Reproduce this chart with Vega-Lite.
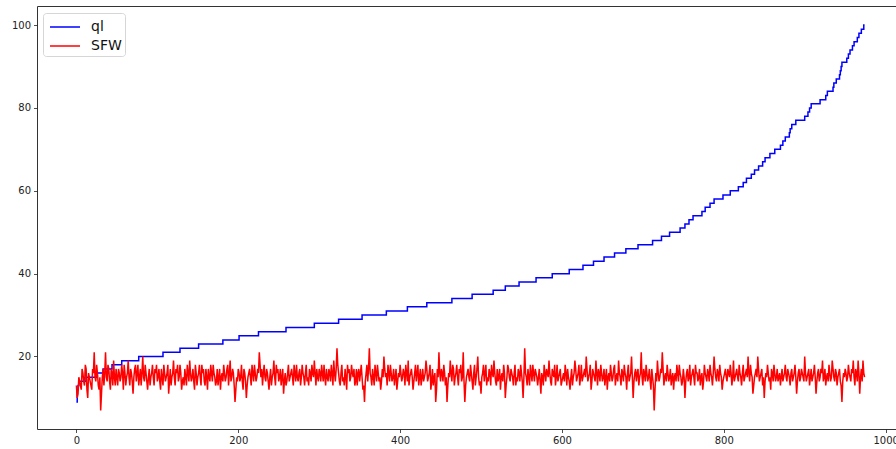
{
  "$schema": "https://vega.github.io/schema/vega-lite/v6.json",
  "width": 867,
  "height": 423,
  "autosize": {"type": "none"},
  "padding": {"left": 37, "top": 6, "right": 0, "bottom": 20},
  "background": "white",
  "config": {
    "view": {"stroke": "#333", "strokeWidth": 1},
    "axis": {"labelFont": "DejaVu Sans", "labelFontSize": 10, "labelColor": "#222", "tickColor": "#222", "tickSize": 3.5, "tickWidth": 0.8, "labelPadding": 3, "domain": false, "grid": false, "title": null},
    "legend": {"labelFont": "DejaVu Sans", "labelFontSize": 14, "labelColor": "#111"}
  },
  "datasets": {
    "ql": [
      {"x":0,"v":9},{"x":1,"v":12},{"x":2,"v":13},{"x":3,"v":14},{"x":12,"v":15},{"x":25,"v":16},{"x":33,"v":17},{"x":44,"v":18},{"x":56,"v":19},{"x":77,"v":20},{"x":107,"v":21},{"x":128,"v":22},{"x":151,"v":23},{"x":181,"v":24},{"x":201,"v":25},{"x":225,"v":26},{"x":259,"v":27},{"x":294,"v":28},{"x":324,"v":29},{"x":353,"v":30},{"x":383,"v":31},{"x":409,"v":32},{"x":433,"v":33},{"x":464,"v":34},{"x":489,"v":35},{"x":515,"v":36},{"x":530,"v":37},{"x":547,"v":38},{"x":568,"v":39},{"x":588,"v":40},{"x":609,"v":41},{"x":626,"v":42},{"x":639,"v":43},{"x":652,"v":44},{"x":665,"v":45},{"x":679,"v":46},{"x":694,"v":47},{"x":712,"v":48},{"x":723,"v":49},{"x":733,"v":50},{"x":746,"v":51},{"x":752,"v":52},{"x":757,"v":53},{"x":762,"v":54},{"x":773,"v":55},{"x":777,"v":56},{"x":783,"v":57},{"x":788,"v":58},{"x":799,"v":59},{"x":808,"v":60},{"x":818,"v":61},{"x":824,"v":62},{"x":828,"v":63},{"x":834,"v":64},{"x":838,"v":65},{"x":843,"v":66},{"x":848,"v":67},{"x":851,"v":68},{"x":857,"v":69},{"x":863,"v":70},{"x":870,"v":71},{"x":873,"v":72},{"x":876,"v":73},{"x":881,"v":74},{"x":882,"v":75},{"x":884,"v":76},{"x":889,"v":77},{"x":900,"v":78},{"x":904,"v":79},{"x":906,"v":80},{"x":908,"v":81},{"x":919,"v":82},{"x":926,"v":83},{"x":928,"v":84},{"x":935,"v":85},{"x":936,"v":86},{"x":939,"v":87},{"x":943,"v":88},{"x":944,"v":89},{"x":945,"v":90},{"x":946,"v":91},{"x":952,"v":92},{"x":954,"v":93},{"x":956,"v":94},{"x":959,"v":95},{"x":961,"v":96},{"x":965,"v":97},{"x":967,"v":98},{"x":970,"v":99},{"x":973,"v":100},{"x":974,"v":100}
    ],
    "sfw": [
      {"x":0,"v":13},{"x":2,"v":11},{"x":4,"v":14},{"x":6,"v":12},{"x":8,"v":16},{"x":10,"v":13},{"x":12,"v":17},{"x":14,"v":10},{"x":16,"v":15},{"x":18,"v":13},{"x":20,"v":17},{"x":22,"v":21},{"x":24,"v":14},{"x":26,"v":16},{"x":28,"v":12},{"x":30,"v":7},{"x":32,"v":15},{"x":34,"v":13},{"x":36,"v":21},{"x":38,"v":14},{"x":40,"v":17},{"x":42,"v":12},{"x":44,"v":16},{"x":46,"v":19},{"x":48,"v":13},{"x":50,"v":15},
      {"x":52,"v":17},{"x":54,"v":14},{"x":56,"v":18},{"x":58,"v":12},{"x":60,"v":16},{"x":62,"v":15},{"x":64,"v":19},{"x":66,"v":13},{"x":68,"v":16},{"x":70,"v":11},{"x":72,"v":17},{"x":74,"v":14},{"x":76,"v":18},{"x":78,"v":15},{"x":80,"v":13},{"x":82,"v":20},{"x":84,"v":14},{"x":86,"v":16},{"x":88,"v":12},{"x":90,"v":17},{"x":92,"v":15},{"x":94,"v":18},{"x":96,"v":13},{"x":98,"v":16},{"x":100,"v":14},
      {"x":102,"v":17},{"x":104,"v":12},{"x":106,"v":15},{"x":108,"v":18},{"x":110,"v":14},{"x":112,"v":16},{"x":114,"v":11},{"x":116,"v":17},{"x":118,"v":15},{"x":120,"v":19},{"x":122,"v":13},{"x":124,"v":16},{"x":126,"v":14},{"x":128,"v":18},{"x":130,"v":12},{"x":132,"v":15},{"x":134,"v":17},{"x":136,"v":13},{"x":138,"v":16},{"x":140,"v":19},{"x":142,"v":14},{"x":144,"v":17},{"x":146,"v":12},{"x":148,"v":16},{"x":150,"v":15},
      {"x":152,"v":18},{"x":154,"v":13},{"x":156,"v":16},{"x":158,"v":14},{"x":160,"v":17},{"x":162,"v":12},{"x":164,"v":15},{"x":166,"v":18},{"x":168,"v":14},{"x":170,"v":16},{"x":172,"v":13},{"x":174,"v":17},{"x":176,"v":15},{"x":178,"v":12},{"x":180,"v":16},{"x":182,"v":18},{"x":184,"v":14},{"x":186,"v":17},{"x":188,"v":13},{"x":190,"v":19},{"x":192,"v":15},{"x":194,"v":16},{"x":196,"v":9},{"x":198,"v":15},{"x":200,"v":17},
      {"x":202,"v":14},{"x":204,"v":18},{"x":206,"v":12},{"x":208,"v":16},{"x":210,"v":10},{"x":212,"v":15},{"x":214,"v":17},{"x":216,"v":13},{"x":218,"v":16},{"x":220,"v":18},{"x":222,"v":14},{"x":224,"v":17},{"x":226,"v":21},{"x":228,"v":15},{"x":230,"v":13},{"x":232,"v":18},{"x":234,"v":14},{"x":236,"v":16},{"x":238,"v":12},{"x":240,"v":17},{"x":242,"v":15},{"x":244,"v":19},{"x":246,"v":13},{"x":248,"v":16},{"x":250,"v":14},
      {"x":252,"v":17},{"x":254,"v":15},{"x":256,"v":11},{"x":258,"v":16},{"x":260,"v":14},{"x":262,"v":18},{"x":264,"v":15},{"x":266,"v":17},{"x":268,"v":13},{"x":270,"v":16},{"x":272,"v":18},{"x":274,"v":14},{"x":276,"v":17},{"x":278,"v":15},{"x":280,"v":16},{"x":282,"v":13},{"x":284,"v":18},{"x":286,"v":15},{"x":288,"v":17},{"x":290,"v":14},{"x":292,"v":16},{"x":294,"v":19},{"x":296,"v":13},{"x":298,"v":15},{"x":300,"v":17},
      {"x":302,"v":14},{"x":304,"v":16},{"x":306,"v":18},{"x":308,"v":13},{"x":310,"v":15},{"x":312,"v":17},{"x":314,"v":14},{"x":316,"v":16},{"x":318,"v":19},{"x":320,"v":14},{"x":322,"v":22},{"x":324,"v":16},{"x":326,"v":13},{"x":328,"v":18},{"x":330,"v":15},{"x":332,"v":17},{"x":334,"v":12},{"x":336,"v":16},{"x":338,"v":14},{"x":340,"v":18},{"x":342,"v":15},{"x":344,"v":13},{"x":346,"v":17},{"x":348,"v":16},{"x":350,"v":14},
      {"x":352,"v":18},{"x":354,"v":12},{"x":356,"v":9},{"x":358,"v":16},{"x":360,"v":14},{"x":362,"v":22},{"x":364,"v":15},{"x":366,"v":17},{"x":368,"v":13},{"x":370,"v":16},{"x":372,"v":18},{"x":374,"v":14},{"x":376,"v":12},{"x":378,"v":17},{"x":380,"v":20},{"x":382,"v":15},{"x":384,"v":13},{"x":386,"v":16},{"x":388,"v":18},{"x":390,"v":14},{"x":392,"v":17},{"x":394,"v":15},{"x":396,"v":12},{"x":398,"v":16},{"x":400,"v":18},
      {"x":402,"v":14},{"x":404,"v":17},{"x":406,"v":13},{"x":408,"v":16},{"x":410,"v":19},{"x":412,"v":15},{"x":414,"v":17},{"x":416,"v":12},{"x":418,"v":16},{"x":420,"v":14},{"x":422,"v":18},{"x":424,"v":15},{"x":426,"v":13},{"x":428,"v":17},{"x":430,"v":15},{"x":432,"v":19},{"x":434,"v":14},{"x":436,"v":16},{"x":438,"v":12},{"x":440,"v":17},{"x":442,"v":15},{"x":444,"v":9},{"x":446,"v":17},{"x":448,"v":21},{"x":450,"v":14},
      {"x":452,"v":16},{"x":454,"v":18},{"x":456,"v":13},{"x":458,"v":9},{"x":460,"v":16},{"x":462,"v":19},{"x":464,"v":14},{"x":466,"v":17},{"x":468,"v":15},{"x":470,"v":18},{"x":472,"v":13},{"x":474,"v":16},{"x":476,"v":14},{"x":478,"v":21},{"x":480,"v":9},{"x":482,"v":15},{"x":484,"v":17},{"x":486,"v":14},{"x":488,"v":16},{"x":490,"v":12},{"x":492,"v":18},{"x":494,"v":15},{"x":496,"v":20},{"x":498,"v":13},{"x":500,"v":11},
      {"x":502,"v":16},{"x":504,"v":14},{"x":506,"v":18},{"x":508,"v":15},{"x":510,"v":17},{"x":512,"v":13},{"x":514,"v":16},{"x":516,"v":19},{"x":518,"v":14},{"x":520,"v":17},{"x":522,"v":15},{"x":524,"v":12},{"x":526,"v":16},{"x":528,"v":18},{"x":530,"v":10},{"x":532,"v":15},{"x":534,"v":17},{"x":536,"v":14},{"x":538,"v":16},{"x":540,"v":13},{"x":542,"v":18},{"x":544,"v":15},{"x":546,"v":17},{"x":548,"v":14},{"x":550,"v":16},
      {"x":552,"v":10},{"x":554,"v":22},{"x":556,"v":15},{"x":558,"v":17},{"x":560,"v":13},{"x":562,"v":16},{"x":564,"v":18},{"x":566,"v":14},{"x":568,"v":16},{"x":570,"v":13},{"x":572,"v":17},{"x":574,"v":11},{"x":576,"v":15},{"x":578,"v":18},{"x":580,"v":14},{"x":582,"v":16},{"x":584,"v":19},{"x":586,"v":14},{"x":588,"v":17},{"x":590,"v":15},{"x":592,"v":13},{"x":594,"v":18},{"x":596,"v":15},{"x":598,"v":17},{"x":600,"v":14},
      {"x":602,"v":16},{"x":604,"v":18},{"x":606,"v":13},{"x":608,"v":15},{"x":610,"v":12},{"x":612,"v":17},{"x":614,"v":15},{"x":616,"v":19},{"x":618,"v":14},{"x":620,"v":16},{"x":622,"v":13},{"x":624,"v":18},{"x":626,"v":15},{"x":628,"v":17},{"x":630,"v":20},{"x":632,"v":14},{"x":634,"v":16},{"x":636,"v":12},{"x":638,"v":17},{"x":640,"v":15},{"x":642,"v":19},{"x":644,"v":13},{"x":646,"v":16},{"x":648,"v":18},{"x":650,"v":14},
      {"x":652,"v":17},{"x":654,"v":15},{"x":656,"v":12},{"x":658,"v":16},{"x":660,"v":18},{"x":662,"v":14},{"x":664,"v":17},{"x":666,"v":13},{"x":668,"v":16},{"x":670,"v":19},{"x":672,"v":15},{"x":674,"v":17},{"x":676,"v":14},{"x":678,"v":16},{"x":680,"v":12},{"x":682,"v":18},{"x":684,"v":15},{"x":686,"v":20},{"x":688,"v":10},{"x":690,"v":16},{"x":692,"v":14},{"x":694,"v":17},{"x":696,"v":15},{"x":698,"v":21},{"x":700,"v":13},
      {"x":702,"v":16},{"x":704,"v":18},{"x":706,"v":14},{"x":708,"v":17},{"x":710,"v":12},{"x":712,"v":15},{"x":714,"v":7},{"x":716,"v":16},{"x":718,"v":19},{"x":720,"v":14},{"x":722,"v":17},{"x":724,"v":21},{"x":726,"v":13},{"x":728,"v":16},{"x":730,"v":18},{"x":732,"v":14},{"x":734,"v":17},{"x":736,"v":15},{"x":738,"v":12},{"x":740,"v":16},{"x":742,"v":18},{"x":744,"v":14},{"x":746,"v":16},{"x":748,"v":13},{"x":750,"v":17},
      {"x":752,"v":10},{"x":754,"v":16},{"x":756,"v":14},{"x":758,"v":18},{"x":760,"v":15},{"x":762,"v":17},{"x":764,"v":13},{"x":766,"v":16},{"x":768,"v":14},{"x":770,"v":17},{"x":772,"v":15},{"x":774,"v":12},{"x":776,"v":18},{"x":778,"v":15},{"x":780,"v":17},{"x":782,"v":14},{"x":784,"v":16},{"x":786,"v":13},{"x":788,"v":20},{"x":790,"v":15},{"x":792,"v":17},{"x":794,"v":14},{"x":796,"v":16},{"x":798,"v":12},{"x":800,"v":15},
      {"x":802,"v":17},{"x":804,"v":14},{"x":806,"v":16},{"x":808,"v":18},{"x":810,"v":13},{"x":812,"v":19},{"x":814,"v":15},{"x":816,"v":17},{"x":818,"v":14},{"x":820,"v":16},{"x":822,"v":13},{"x":824,"v":18},{"x":826,"v":15},{"x":828,"v":17},{"x":830,"v":20},{"x":832,"v":14},{"x":834,"v":16},{"x":836,"v":11},{"x":838,"v":15},{"x":840,"v":17},{"x":842,"v":20},{"x":844,"v":14},{"x":846,"v":16},{"x":848,"v":13},{"x":850,"v":10},
      {"x":852,"v":16},{"x":854,"v":18},{"x":856,"v":14},{"x":858,"v":12},{"x":860,"v":16},{"x":862,"v":18},{"x":864,"v":14},{"x":866,"v":17},{"x":868,"v":15},{"x":870,"v":13},{"x":872,"v":17},{"x":874,"v":15},{"x":876,"v":18},{"x":878,"v":14},{"x":880,"v":16},{"x":882,"v":13},{"x":884,"v":17},{"x":886,"v":15},{"x":888,"v":18},{"x":890,"v":11},{"x":892,"v":16},{"x":894,"v":14},{"x":896,"v":17},{"x":898,"v":15},{"x":900,"v":20},
      {"x":902,"v":14},{"x":904,"v":16},{"x":906,"v":13},{"x":908,"v":17},{"x":910,"v":15},{"x":912,"v":18},{"x":914,"v":11},{"x":916,"v":16},{"x":918,"v":14},{"x":920,"v":17},{"x":922,"v":19},{"x":924,"v":15},{"x":926,"v":13},{"x":928,"v":16},{"x":930,"v":18},{"x":932,"v":14},{"x":934,"v":19},{"x":936,"v":15},{"x":938,"v":17},{"x":940,"v":13},{"x":942,"v":16},{"x":944,"v":14},{"x":946,"v":9},{"x":948,"v":16},{"x":950,"v":17},
      {"x":952,"v":14},{"x":954,"v":18},{"x":956,"v":15},{"x":958,"v":17},{"x":960,"v":19},{"x":962,"v":13},{"x":964,"v":16},{"x":966,"v":19},{"x":968,"v":11},{"x":970,"v":17},{"x":972,"v":19},{"x":974,"v":15},
      {"x":1,"v":10},{"x":3,"v":15},{"x":5,"v":13},{"x":7,"v":17},{"x":9,"v":14},{"x":11,"v":18},{"x":13,"v":12},{"x":15,"v":16},{"x":17,"v":14},{"x":19,"v":12},{"x":21,"v":16},{"x":23,"v":15},{"x":25,"v":18},{"x":27,"v":13},{"x":29,"v":15},{"x":31,"v":11},{"x":33,"v":17},{"x":35,"v":16},{"x":37,"v":15},{"x":39,"v":18},{"x":41,"v":14},{"x":43,"v":17},{"x":45,"v":13},{"x":47,"v":15},{"x":49,"v":17},
      {"x":51,"v":13},{"x":53,"v":16},{"x":55,"v":15},{"x":57,"v":16},{"x":59,"v":18},{"x":61,"v":13},{"x":63,"v":16},{"x":65,"v":15},{"x":67,"v":17},{"x":69,"v":14},{"x":71,"v":15},{"x":73,"v":18},{"x":75,"v":16},{"x":77,"v":13},{"x":79,"v":17},{"x":81,"v":16},{"x":83,"v":15},{"x":85,"v":18},{"x":87,"v":14},{"x":89,"v":15},{"x":91,"v":13},{"x":93,"v":16},{"x":95,"v":15},{"x":97,"v":17},{"x":99,"v":18},
      {"x":101,"v":15},{"x":103,"v":14},{"x":105,"v":17},{"x":107,"v":13},{"x":109,"v":16},{"x":111,"v":15},{"x":113,"v":18},{"x":115,"v":14},{"x":117,"v":13},{"x":119,"v":16},{"x":121,"v":15},{"x":123,"v":17},{"x":125,"v":18},{"x":127,"v":15},{"x":129,"v":16},{"x":131,"v":14},{"x":133,"v":13},{"x":135,"v":15},{"x":137,"v":18},{"x":139,"v":14},{"x":141,"v":16},{"x":143,"v":15},{"x":145,"v":14},{"x":147,"v":18},{"x":149,"v":13},
      {"x":151,"v":16},{"x":153,"v":15},{"x":155,"v":18},{"x":157,"v":17},{"x":159,"v":13},{"x":161,"v":15},{"x":163,"v":17},{"x":165,"v":14},{"x":167,"v":16},{"x":169,"v":18},{"x":171,"v":15},{"x":173,"v":14},{"x":175,"v":13},{"x":177,"v":17},{"x":179,"v":15},{"x":181,"v":14},{"x":183,"v":16},{"x":185,"v":15},{"x":187,"v":18},{"x":189,"v":16},{"x":191,"v":14},{"x":193,"v":17},{"x":195,"v":13},{"x":197,"v":12},{"x":199,"v":14},
      {"x":201,"v":16},{"x":203,"v":15},{"x":205,"v":14},{"x":207,"v":17},{"x":209,"v":14},{"x":211,"v":13},{"x":213,"v":16},{"x":215,"v":15},{"x":217,"v":18},{"x":219,"v":14},{"x":221,"v":16},{"x":223,"v":15},{"x":225,"v":16},{"x":227,"v":18},{"x":229,"v":17},{"x":231,"v":16},{"x":233,"v":15},{"x":235,"v":17},{"x":237,"v":14},{"x":239,"v":15},{"x":241,"v":13},{"x":243,"v":16},{"x":245,"v":15},{"x":247,"v":18},{"x":249,"v":17},
      {"x":251,"v":15},{"x":253,"v":13},{"x":255,"v":17},{"x":257,"v":14},{"x":259,"v":13},{"x":261,"v":16},{"x":263,"v":14},{"x":265,"v":16},{"x":267,"v":15},{"x":269,"v":18},{"x":271,"v":14},{"x":273,"v":15},{"x":275,"v":16},{"x":277,"v":13},{"x":279,"v":18},{"x":281,"v":15},{"x":283,"v":16},{"x":285,"v":14},{"x":287,"v":13},{"x":289,"v":16},{"x":291,"v":18},{"x":293,"v":15},{"x":295,"v":16},{"x":297,"v":17},{"x":299,"v":14},
      {"x":301,"v":16},{"x":303,"v":18},{"x":305,"v":14},{"x":307,"v":15},{"x":309,"v":17},{"x":311,"v":14},{"x":313,"v":16},{"x":315,"v":18},{"x":317,"v":13},{"x":319,"v":16},{"x":321,"v":17},{"x":323,"v":18},{"x":325,"v":14},{"x":327,"v":16},{"x":329,"v":14},{"x":331,"v":13},{"x":333,"v":15},{"x":335,"v":18},{"x":337,"v":17},{"x":339,"v":15},{"x":341,"v":16},{"x":343,"v":17},{"x":345,"v":14},{"x":347,"v":13},{"x":349,"v":17},
      {"x":351,"v":16},{"x":353,"v":15},{"x":355,"v":13},{"x":357,"v":14},{"x":359,"v":18},{"x":361,"v":17},{"x":363,"v":16},{"x":365,"v":13},{"x":367,"v":15},{"x":369,"v":18},{"x":371,"v":14},{"x":373,"v":16},{"x":375,"v":15},{"x":377,"v":14},{"x":379,"v":15},{"x":381,"v":17},{"x":383,"v":16},{"x":385,"v":18},{"x":387,"v":14},{"x":389,"v":16},{"x":391,"v":15},{"x":393,"v":13},{"x":395,"v":17},{"x":397,"v":14},{"x":399,"v":15},
      {"x":401,"v":16},{"x":403,"v":15},{"x":405,"v":16},{"x":407,"v":18},{"x":409,"v":14},{"x":411,"v":13},{"x":413,"v":16},{"x":415,"v":15},{"x":417,"v":14},{"x":419,"v":18},{"x":421,"v":16},{"x":423,"v":13},{"x":425,"v":17},{"x":427,"v":15},{"x":429,"v":14},{"x":431,"v":16},{"x":433,"v":17},{"x":435,"v":15},{"x":437,"v":18},{"x":439,"v":14},{"x":441,"v":13},{"x":443,"v":16},{"x":445,"v":12},{"x":447,"v":15},{"x":449,"v":16},
      {"x":451,"v":17},{"x":453,"v":14},{"x":455,"v":16},{"x":457,"v":15},{"x":459,"v":13},{"x":461,"v":15},{"x":463,"v":16},{"x":465,"v":18},{"x":467,"v":13},{"x":469,"v":16},{"x":471,"v":15},{"x":473,"v":17},{"x":475,"v":18},{"x":477,"v":15},{"x":479,"v":14},{"x":481,"v":13},{"x":483,"v":16},{"x":485,"v":15},{"x":487,"v":18},{"x":489,"v":14},{"x":491,"v":16},{"x":493,"v":13},{"x":495,"v":17},{"x":497,"v":15},{"x":499,"v":14},
      {"x":501,"v":15},{"x":503,"v":18},{"x":505,"v":16},{"x":507,"v":13},{"x":509,"v":14},{"x":511,"v":16},{"x":513,"v":18},{"x":515,"v":15},{"x":517,"v":16},{"x":519,"v":13},{"x":521,"v":14},{"x":523,"v":17},{"x":525,"v":15},{"x":527,"v":14},{"x":529,"v":16},{"x":531,"v":13},{"x":533,"v":18},{"x":535,"v":15},{"x":537,"v":17},{"x":539,"v":15},{"x":541,"v":16},{"x":543,"v":13},{"x":545,"v":14},{"x":547,"v":16},{"x":549,"v":18},
      {"x":551,"v":14},{"x":553,"v":15},{"x":555,"v":16},{"x":557,"v":13},{"x":559,"v":15},{"x":561,"v":18},{"x":563,"v":14},{"x":565,"v":16},{"x":567,"v":17},{"x":569,"v":15},{"x":571,"v":15},{"x":573,"v":14},{"x":575,"v":16},{"x":577,"v":13},{"x":579,"v":16},{"x":581,"v":17},{"x":583,"v":15},{"x":585,"v":16},{"x":587,"v":13},{"x":589,"v":16},{"x":591,"v":18},{"x":593,"v":15},{"x":595,"v":14},{"x":597,"v":16},{"x":599,"v":13},
      {"x":601,"v":15},{"x":603,"v":14},{"x":605,"v":16},{"x":607,"v":17},{"x":609,"v":14},{"x":611,"v":15},{"x":613,"v":13},{"x":615,"v":16},{"x":617,"v":17},{"x":619,"v":15},{"x":621,"v":18},{"x":623,"v":15},{"x":625,"v":14},{"x":627,"v":16},{"x":629,"v":15},{"x":631,"v":17},{"x":633,"v":15},{"x":635,"v":18},{"x":637,"v":14},{"x":639,"v":16},{"x":641,"v":14},{"x":643,"v":16},{"x":645,"v":17},{"x":647,"v":14},{"x":649,"v":16},
      {"x":651,"v":15},{"x":653,"v":13},{"x":655,"v":17},{"x":657,"v":15},{"x":659,"v":14},{"x":661,"v":16},{"x":663,"v":15},{"x":665,"v":18},{"x":667,"v":15},{"x":669,"v":14},{"x":671,"v":16},{"x":673,"v":13},{"x":675,"v":16},{"x":677,"v":18},{"x":679,"v":15},{"x":681,"v":16},{"x":683,"v":14},{"x":685,"v":16},{"x":687,"v":15},{"x":689,"v":14},{"x":691,"v":17},{"x":693,"v":16},{"x":695,"v":13},{"x":697,"v":16},{"x":699,"v":15},
      {"x":701,"v":17},{"x":703,"v":14},{"x":705,"v":16},{"x":707,"v":15},{"x":709,"v":14},{"x":711,"v":17},{"x":713,"v":13},{"x":715,"v":12},{"x":717,"v":14},{"x":719,"v":16},{"x":721,"v":15},{"x":723,"v":16},{"x":725,"v":17},{"x":727,"v":15},{"x":729,"v":14},{"x":731,"v":16},{"x":733,"v":15},{"x":735,"v":13},{"x":737,"v":16},{"x":739,"v":15},{"x":741,"v":14},{"x":743,"v":16},{"x":745,"v":18},{"x":747,"v":15},{"x":749,"v":14},
      {"x":751,"v":15},{"x":753,"v":14},{"x":755,"v":17},{"x":757,"v":15},{"x":759,"v":13},{"x":761,"v":16},{"x":763,"v":15},{"x":765,"v":18},{"x":767,"v":16},{"x":769,"v":15},{"x":771,"v":13},{"x":773,"v":16},{"x":775,"v":14},{"x":777,"v":16},{"x":779,"v":14},{"x":781,"v":16},{"x":783,"v":18},{"x":785,"v":15},{"x":787,"v":16},{"x":789,"v":17},{"x":791,"v":14},{"x":793,"v":16},{"x":795,"v":18},{"x":797,"v":15},{"x":799,"v":14},
      {"x":801,"v":16},{"x":803,"v":15},{"x":805,"v":17},{"x":807,"v":15},{"x":809,"v":16},{"x":811,"v":15},{"x":813,"v":14},{"x":815,"v":16},{"x":817,"v":15},{"x":819,"v":18},{"x":821,"v":15},{"x":823,"v":16},{"x":825,"v":14},{"x":827,"v":16},{"x":829,"v":15},{"x":831,"v":16},{"x":833,"v":18},{"x":835,"v":15},{"x":837,"v":13},{"x":839,"v":16},{"x":841,"v":15},{"x":843,"v":17},{"x":845,"v":15},{"x":847,"v":17},{"x":849,"v":15},
      {"x":851,"v":14},{"x":853,"v":15},{"x":855,"v":16},{"x":857,"v":15},{"x":859,"v":17},{"x":861,"v":14},{"x":863,"v":16},{"x":865,"v":15},{"x":867,"v":14},{"x":869,"v":16},{"x":871,"v":15},{"x":873,"v":14},{"x":875,"v":16},{"x":877,"v":15},{"x":879,"v":17},{"x":881,"v":15},{"x":883,"v":16},{"x":885,"v":14},{"x":887,"v":16},{"x":889,"v":15},{"x":891,"v":14},{"x":893,"v":17},{"x":895,"v":15},{"x":897,"v":16},{"x":899,"v":14},
      {"x":901,"v":16},{"x":903,"v":15},{"x":905,"v":17},{"x":907,"v":15},{"x":909,"v":14},{"x":911,"v":16},{"x":913,"v":15},{"x":915,"v":14},{"x":917,"v":17},{"x":919,"v":15},{"x":921,"v":16},{"x":923,"v":14},{"x":925,"v":17},{"x":927,"v":15},{"x":929,"v":14},{"x":931,"v":16},{"x":933,"v":15},{"x":935,"v":17},{"x":937,"v":14},{"x":939,"v":16},{"x":941,"v":15},{"x":943,"v":17},{"x":945,"v":13},{"x":947,"v":14},{"x":949,"v":15},
      {"x":951,"v":16},{"x":953,"v":15},{"x":955,"v":16},{"x":957,"v":14},{"x":959,"v":16},{"x":961,"v":15},{"x":963,"v":17},{"x":965,"v":14},{"x":967,"v":16},{"x":969,"v":15},{"x":971,"v":14},{"x":973,"v":16}
    ]
  },
  "layer": [
    {
      "data": {"name": "ql"},
      "mark": {"type": "line", "interpolate": "step-after", "strokeWidth": 1.5, "clip": true},
      "encoding": {
        "x": {"field": "x", "type": "quantitative", "scale": {"domain": [-48.7, 1022.7], "nice": false, "zero": false}, "axis": {"values": [0, 200, 400, 600, 800, 1000], "format": "d"}},
        "y": {"field": "v", "type": "quantitative", "scale": {"domain": [2.5, 104.6], "nice": false, "zero": false}, "axis": {"values": [20, 40, 60, 80, 100], "format": "d"}},
        "color": {"datum": "ql", "type": "nominal", "scale": {"domain": ["ql", "SFW"], "range": ["#0000ff", "#ff0000"]},
          "legend": {"title": null, "orient": "none", "legendX": 6, "legendY": 7, "symbolType": "M-1.5,0H1.5", "symbolSize": 400, "symbolOffset": 8, "symbolStrokeWidth": 1.5, "labelOffset": 15, "rowPadding": 1, "padding": 3, "fillColor": "white", "strokeColor": "#d6d6d6", "cornerRadius": 3, "labelFontSize": 14}}
      }
    },
    {
      "data": {"name": "sfw"},
      "mark": {"type": "line", "strokeWidth": 1.5, "clip": true},
      "encoding": {
        "x": {"field": "x", "type": "quantitative"},
        "y": {"field": "v", "type": "quantitative"},
        "color": {"datum": "SFW", "type": "nominal"}
      }
    }
  ]
}
